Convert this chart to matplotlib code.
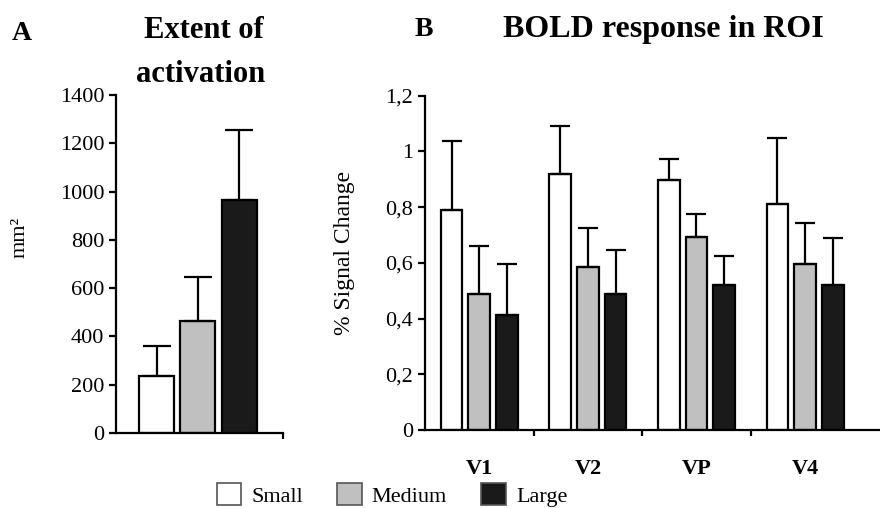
import numpy as np
import matplotlib
matplotlib.use("Agg")
import matplotlib.pyplot as plt
from matplotlib.patches import Patch

plt.rcParams['font.family'] = ['Liberation Serif', 'DejaVu Serif']

# panel A: extent of activation (mm^2)
sizes = ['Small', 'Medium', 'Large']
extent = [237, 462, 965]
extent_err = [125, 185, 288]

# panel B: BOLD response per ROI (% signal change)
rois = ['V1', 'V2', 'VP', 'V4']
bold_small = [0.79, 0.918, 0.897, 0.81]
bold_medium = [0.488, 0.584, 0.692, 0.597]
bold_large = [0.412, 0.487, 0.519, 0.519]
err_small = [0.246, 0.172, 0.075, 0.237]
err_medium = [0.172, 0.140, 0.084, 0.147]
err_large = [0.184, 0.159, 0.107, 0.171]

colors = ['white', '#c0c0c0', '#1a1a1a']

fig = plt.figure(figsize=(8.8, 5.08), dpi=100)

# ---- panel A
axA = fig.add_axes([116 / 880, 75 / 508, 167 / 880, 338 / 508])
xa = np.arange(len(sizes))
axA.bar(xa, extent, width=0.85, color=colors, edgecolor='black', linewidth=1.6)
axA.errorbar(xa, extent, yerr=[np.zeros(3), extent_err], fmt='none',
             ecolor='black', elinewidth=1.6, capsize=10, capthick=1.6)
axA.set_xlim(-0.98, 3.06)
axA.set_ylim(0, 1400)
axA.set_yticks(np.arange(0, 1401, 200))
axA.set_xticks([3.06])
axA.set_xticklabels([''])
axA.set_ylabel('mm²', fontsize=16)
axA.yaxis.set_label_coords(-0.515, 0.58)

# ---- panel B
axB = fig.add_axes([425 / 880, 78 / 508, 455 / 880, 334.3 / 508])
xb = np.arange(len(rois))
for k, (vals, errs) in enumerate([(bold_small, err_small),
                                   (bold_medium, err_medium),
                                   (bold_large, err_large)]):
    pos = xb + (k - 1) * 0.255
    axB.bar(pos, vals, width=0.2, color=colors[k], edgecolor='black', linewidth=1.6)
    axB.errorbar(pos, vals, yerr=[np.zeros(len(vals)), errs], fmt='none',
                 ecolor='black', elinewidth=1.6, capsize=7.5, capthick=1.6)
axB.set_xlim(-0.5, 3.69)
axB.set_ylim(0, 1.2)
axB.set_yticks(np.arange(0, 1.21, 0.2))
axB.set_yticklabels(['0', '0,2', '0,4', '0,6', '0,8', '1', '1,2'])
axB.set_xticks([0.5, 1.5, 2.5])
axB.set_xticklabels(['', '', ''])
axB.set_xticks(xb, minor=True)
axB.set_xticklabels(rois, minor=True, fontweight='bold', fontsize=16)
axB.tick_params(axis='x', which='minor', length=0, pad=21)
axB.set_ylabel('% Signal Change', fontsize=17)
axB.yaxis.set_label_coords(-0.154, 0.531)

for ax in (axA, axB):
    ax.spines['top'].set_visible(False)
    ax.spines['right'].set_visible(False)
    ax.spines['left'].set_linewidth(1.6)
    ax.spines['bottom'].set_linewidth(1.6)
    ax.tick_params(axis='y', labelsize=16, width=1.6, length=5, direction='out')
    ax.tick_params(axis='x', which='major', width=1.6, length=4, direction='out')

# titles
fig.text(12 / 880, 1 - 33 / 508, 'A', fontsize=20, fontweight='bold', va='center')
fig.text(204 / 880, 1 - 31 / 508, 'Extent of', fontsize=22, fontweight='bold',
         ha='center', va='center')
fig.text(201 / 880, 1 - 74 / 508, 'activation', fontsize=22, fontweight='bold',
         ha='center', va='center')
fig.text(415 / 880, 1 - 30 / 508, 'B', fontsize=20, fontweight='bold', va='center')
fig.text(663 / 880, 1 - 30 / 508, 'BOLD response in ROI', fontsize=23,
         fontweight='bold', ha='center', va='center')

# legend
handles = [Patch(facecolor=c, edgecolor='#555555', linewidth=1.2) for c in colors]
fig.legend(handles, sizes, loc='center', bbox_to_anchor=(392 / 880, 13 / 508),
           ncol=3, frameon=False, fontsize=16, handlelength=1.1, handleheight=1.1,
           handletextpad=0.45, columnspacing=1.55, borderpad=0)

fig.savefig('out.png', dpi=100)
